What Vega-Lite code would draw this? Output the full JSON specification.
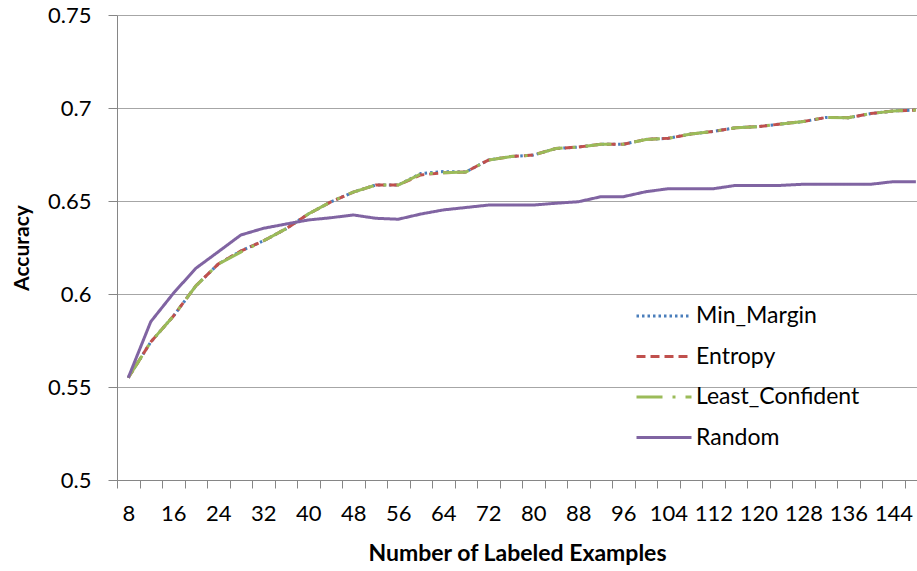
{
  "$schema": "https://vega.github.io/schema/vega-lite/v6.json",
  "width": 800,
  "height": 465,
  "autosize": {"type": "none"},
  "padding": {"left": 117, "top": 15, "right": 0, "bottom": 91},
  "background": "white",
  "config": {
    "font": "Lato",
    "view": {"stroke": null},
    "axis": {"labelFont": "Lato", "titleFont": "Lato", "labelColor": "#000000", "titleColor": "#000000", "domainColor": "#868686", "tickColor": "#868686", "gridColor": "#A6A6A6", "gridWidth": 1}
  },
  "data": {"values": [
    {"n":8,"method":"Min_Margin","acc":0.555},{"n":12,"method":"Min_Margin","acc":0.5742},{"n":16,"method":"Min_Margin","acc":0.588},{"n":20,"method":"Min_Margin","acc":0.6043},{"n":24,"method":"Min_Margin","acc":0.6161},{"n":28,"method":"Min_Margin","acc":0.6231},{"n":32,"method":"Min_Margin","acc":0.6285},{"n":36,"method":"Min_Margin","acc":0.635},{"n":40,"method":"Min_Margin","acc":0.643},{"n":44,"method":"Min_Margin","acc":0.6495},{"n":48,"method":"Min_Margin","acc":0.6548},{"n":52,"method":"Min_Margin","acc":0.6586},{"n":56,"method":"Min_Margin","acc":0.6586},{"n":60,"method":"Min_Margin","acc":0.6648},{"n":64,"method":"Min_Margin","acc":0.6658},{"n":68,"method":"Min_Margin","acc":0.6656},{"n":72,"method":"Min_Margin","acc":0.672},{"n":76,"method":"Min_Margin","acc":0.6739},{"n":80,"method":"Min_Margin","acc":0.6747},{"n":84,"method":"Min_Margin","acc":0.6782},{"n":88,"method":"Min_Margin","acc":0.679},{"n":92,"method":"Min_Margin","acc":0.6805},{"n":96,"method":"Min_Margin","acc":0.6805},{"n":100,"method":"Min_Margin","acc":0.6831},{"n":104,"method":"Min_Margin","acc":0.6837},{"n":108,"method":"Min_Margin","acc":0.686},{"n":112,"method":"Min_Margin","acc":0.6874},{"n":116,"method":"Min_Margin","acc":0.6894},{"n":120,"method":"Min_Margin","acc":0.69},{"n":124,"method":"Min_Margin","acc":0.6914},{"n":128,"method":"Min_Margin","acc":0.6927},{"n":132,"method":"Min_Margin","acc":0.6949},{"n":136,"method":"Min_Margin","acc":0.6948},{"n":140,"method":"Min_Margin","acc":0.697},{"n":144,"method":"Min_Margin","acc":0.6984},{"n":148,"method":"Min_Margin","acc":0.6989},
    {"n":8,"method":"Entropy","acc":0.555},{"n":12,"method":"Entropy","acc":0.5742},{"n":16,"method":"Entropy","acc":0.588},{"n":20,"method":"Entropy","acc":0.6043},{"n":24,"method":"Entropy","acc":0.6161},{"n":28,"method":"Entropy","acc":0.6231},{"n":32,"method":"Entropy","acc":0.6285},{"n":36,"method":"Entropy","acc":0.635},{"n":40,"method":"Entropy","acc":0.643},{"n":44,"method":"Entropy","acc":0.6495},{"n":48,"method":"Entropy","acc":0.6548},{"n":52,"method":"Entropy","acc":0.6586},{"n":56,"method":"Entropy","acc":0.6586},{"n":60,"method":"Entropy","acc":0.664},{"n":64,"method":"Entropy","acc":0.6652},{"n":68,"method":"Entropy","acc":0.6656},{"n":72,"method":"Entropy","acc":0.672},{"n":76,"method":"Entropy","acc":0.6739},{"n":80,"method":"Entropy","acc":0.6747},{"n":84,"method":"Entropy","acc":0.6782},{"n":88,"method":"Entropy","acc":0.679},{"n":92,"method":"Entropy","acc":0.6805},{"n":96,"method":"Entropy","acc":0.6805},{"n":100,"method":"Entropy","acc":0.6831},{"n":104,"method":"Entropy","acc":0.6837},{"n":108,"method":"Entropy","acc":0.686},{"n":112,"method":"Entropy","acc":0.6874},{"n":116,"method":"Entropy","acc":0.6894},{"n":120,"method":"Entropy","acc":0.69},{"n":124,"method":"Entropy","acc":0.6914},{"n":128,"method":"Entropy","acc":0.6927},{"n":132,"method":"Entropy","acc":0.6949},{"n":136,"method":"Entropy","acc":0.6948},{"n":140,"method":"Entropy","acc":0.697},{"n":144,"method":"Entropy","acc":0.6984},{"n":148,"method":"Entropy","acc":0.6989},
    {"n":8,"method":"Least_Confident","acc":0.555},{"n":12,"method":"Least_Confident","acc":0.5742},{"n":16,"method":"Least_Confident","acc":0.588},{"n":20,"method":"Least_Confident","acc":0.6043},{"n":24,"method":"Least_Confident","acc":0.6161},{"n":28,"method":"Least_Confident","acc":0.6225},{"n":32,"method":"Least_Confident","acc":0.6285},{"n":36,"method":"Least_Confident","acc":0.635},{"n":40,"method":"Least_Confident","acc":0.643},{"n":44,"method":"Least_Confident","acc":0.6495},{"n":48,"method":"Least_Confident","acc":0.6548},{"n":52,"method":"Least_Confident","acc":0.6586},{"n":56,"method":"Least_Confident","acc":0.6586},{"n":60,"method":"Least_Confident","acc":0.6645},{"n":64,"method":"Least_Confident","acc":0.6652},{"n":68,"method":"Least_Confident","acc":0.6656},{"n":72,"method":"Least_Confident","acc":0.672},{"n":76,"method":"Least_Confident","acc":0.6739},{"n":80,"method":"Least_Confident","acc":0.6747},{"n":84,"method":"Least_Confident","acc":0.6782},{"n":88,"method":"Least_Confident","acc":0.679},{"n":92,"method":"Least_Confident","acc":0.6805},{"n":96,"method":"Least_Confident","acc":0.6805},{"n":100,"method":"Least_Confident","acc":0.6831},{"n":104,"method":"Least_Confident","acc":0.6837},{"n":108,"method":"Least_Confident","acc":0.686},{"n":112,"method":"Least_Confident","acc":0.6874},{"n":116,"method":"Least_Confident","acc":0.6894},{"n":120,"method":"Least_Confident","acc":0.69},{"n":124,"method":"Least_Confident","acc":0.6914},{"n":128,"method":"Least_Confident","acc":0.6927},{"n":132,"method":"Least_Confident","acc":0.6949},{"n":136,"method":"Least_Confident","acc":0.6948},{"n":140,"method":"Least_Confident","acc":0.697},{"n":144,"method":"Least_Confident","acc":0.6984},{"n":148,"method":"Least_Confident","acc":0.6989},
    {"n":8,"method":"Random","acc":0.555},{"n":12,"method":"Random","acc":0.5851},{"n":16,"method":"Random","acc":0.6003},{"n":20,"method":"Random","acc":0.6138},{"n":24,"method":"Random","acc":0.6227},{"n":28,"method":"Random","acc":0.6317},{"n":32,"method":"Random","acc":0.6353},{"n":36,"method":"Random","acc":0.6376},{"n":40,"method":"Random","acc":0.6398},{"n":44,"method":"Random","acc":0.641},{"n":48,"method":"Random","acc":0.6425},{"n":52,"method":"Random","acc":0.6407},{"n":56,"method":"Random","acc":0.6402},{"n":60,"method":"Random","acc":0.643},{"n":64,"method":"Random","acc":0.6452},{"n":68,"method":"Random","acc":0.6465},{"n":72,"method":"Random","acc":0.6478},{"n":76,"method":"Random","acc":0.6478},{"n":80,"method":"Random","acc":0.6478},{"n":84,"method":"Random","acc":0.6488},{"n":88,"method":"Random","acc":0.6496},{"n":92,"method":"Random","acc":0.6523},{"n":96,"method":"Random","acc":0.6523},{"n":100,"method":"Random","acc":0.655},{"n":104,"method":"Random","acc":0.6566},{"n":108,"method":"Random","acc":0.6566},{"n":112,"method":"Random","acc":0.6566},{"n":116,"method":"Random","acc":0.6584},{"n":120,"method":"Random","acc":0.6584},{"n":124,"method":"Random","acc":0.6584},{"n":128,"method":"Random","acc":0.659},{"n":132,"method":"Random","acc":0.659},{"n":136,"method":"Random","acc":0.659},{"n":140,"method":"Random","acc":0.659},{"n":144,"method":"Random","acc":0.6604},{"n":148,"method":"Random","acc":0.6604}
  ]},
  "mark": {"type": "line", "strokeWidth": 3, "clip": true},
  "encoding": {
    "x": {
      "field": "n", "type": "quantitative",
      "scale": {"domain": [6, 148.2], "nice": false, "zero": false},
      "axis": {
        "title": "Number of Labeled Examples",
        "titleFontSize": 23, "titleFontWeight": "bold", "titlePadding": 18,
        "values": [6,8,10,12,14,16,18,20,22,24,26,28,30,32,34,36,38,40,42,44,46,48,50,52,54,56,58,60,62,64,66,68,70,72,74,76,78,80,82,84,86,88,90,92,94,96,98,100,102,104,106,108,110,112,114,116,118,120,122,124,126,128,130,132,134,136,138,140,142,144,146],
        "labelExpr": "datum.value % 8 === 0 ? datum.label : ''",
        "labelOverlap": false, "labelFlush": false,
        "labelFontSize": 22, "labelPadding": 15,
        "tickSize": 8,
        "tickOpacity": {"condition": {"test": "datum.value % 4 === 2", "value": 1}, "value": 0},
        "grid": false
      }
    },
    "y": {
      "field": "acc", "type": "quantitative",
      "scale": {"domain": [0.5, 0.75], "nice": false, "zero": false},
      "axis": {
        "title": "Accuracy",
        "titleFontSize": 21, "titleFontWeight": "bold", "titlePadding": 15,
        "values": [0.5, 0.55, 0.6, 0.65, 0.7, 0.75],
        "format": "~g",
        "labelFontSize": 22, "labelPadding": 17, "tickSize": 9,
        "grid": true
      }
    },
    "color": {
      "field": "method", "type": "nominal",
      "scale": {"domain": ["Min_Margin", "Entropy", "Least_Confident", "Random"], "range": ["#4A7EBB", "#C0504D", "#9BBB59", "#8064A2"]},
      "legend": {
        "title": null, "orient": "none", "legendX": 518, "legendY": 291,
        "labelFont": "Lato", "labelFontSize": 23, "labelColor": "#000000", "labelLimit": 400,
        "symbolSize": 3025, "symbolStrokeWidth": 3, "symbolType": "stroke",
        "clipHeight": 20, "rowPadding": 17.5, "labelOffset": 3, "padding": 0
      }
    },
    "strokeDash": {
      "field": "method", "type": "nominal",
      "scale": {"domain": ["Min_Margin", "Entropy", "Least_Confident", "Random"], "range": [[2.5, 3], [9, 5], [26, 10, 3, 10], [1, 0]]}
    }
  }
}
